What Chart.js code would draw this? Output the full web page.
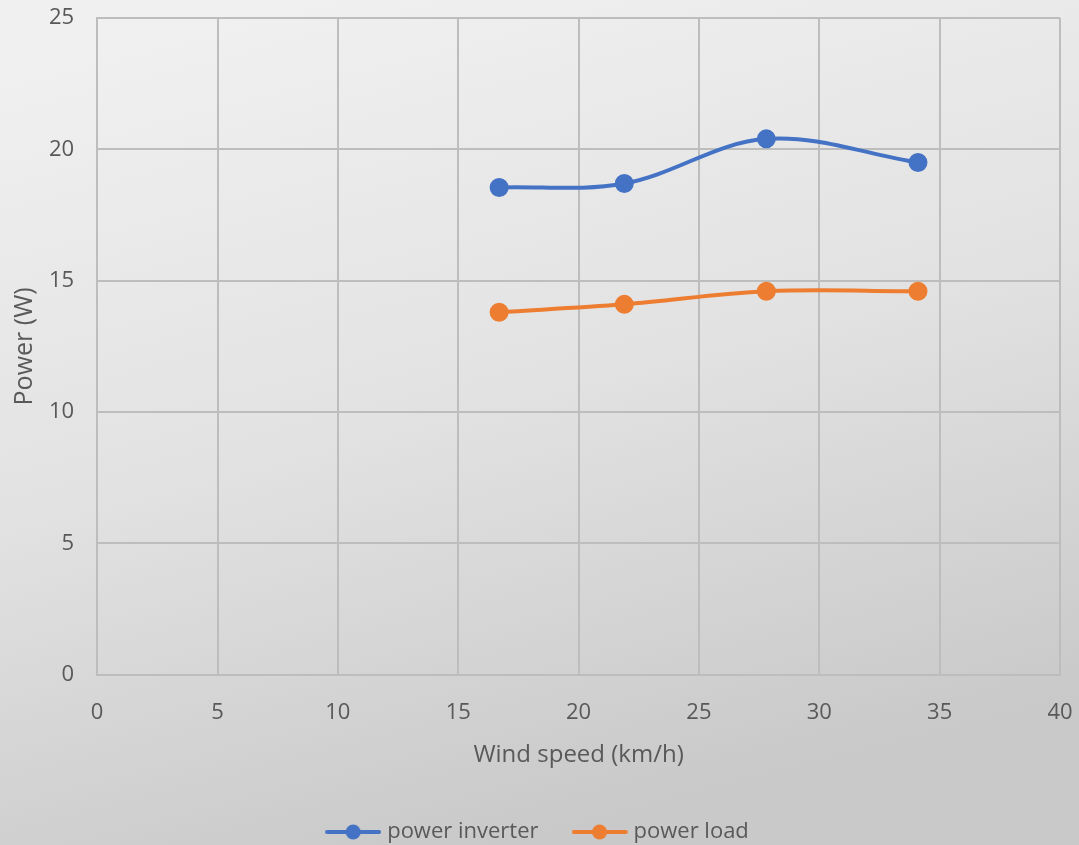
<!DOCTYPE html>
<html>
<head>
<meta charset="utf-8">
<script src="https://cdn.jsdelivr.net/npm/chart.js@4/dist/chart.umd.min.js"></script>
<style>
  html, body { margin: 0; padding: 0; background: #e2e2e2; }
  #wrap { width: 1079px; height: 845px; position: relative; }
</style>
</head>
<body>
<div id="wrap"><canvas id="c" width="1079" height="845"></canvas></div>
<script>
// Wind speed (km/h) and measured power (W)
const windSpeed = [16.7, 21.9, 27.8, 34.1];
const powerInverter = [18.55, 18.7, 20.4, 19.5];
const powerLoad = [13.8, 14.1, 14.6, 14.6];
const seriesNames = ['power inverter', 'power load'];
const xTicks = [0, 5, 10, 15, 20, 25, 30, 35, 40];
const yTicks = [0, 5, 10, 15, 20, 25];

const BLUE = '#4472c4';
const ORANGE = '#ed7d31';
const TEXT = '#595959';
const GRID = '#bdbdbd';
const FONT = "'Open Sans', 'Noto Sans', sans-serif";

function pairs(xs, ys) { return xs.map((x, i) => ({ x: x, y: ys[i] })); }

// legend glyph: short line with a dot in the middle
function legendGlyph(color) {
  const c = document.createElement('canvas');
  c.width = 56; c.height = 16;
  const g = c.getContext('2d');
  g.strokeStyle = color; g.lineWidth = 4; g.lineCap = 'round';
  g.beginPath(); g.moveTo(2, 8); g.lineTo(54, 8); g.stroke();
  g.fillStyle = color;
  g.beginPath(); g.arc(28, 8, 7.5, 0, Math.PI * 2); g.fill();
  return c;
}

const bgPlugin = {
  id: 'bg',
  beforeDraw(chart) {
    const ctx = chart.ctx;
    const w = chart.width, h = chart.height;
    const grad = ctx.createLinearGradient(w * 0.25, 0, w * 0.45, h);
    grad.addColorStop(0, '#f0f0f0');
    grad.addColorStop(0.5, '#e2e2e2');
    grad.addColorStop(1, '#c9c9c9');
    ctx.save();
    ctx.fillStyle = grad;
    ctx.fillRect(0, 0, w, h);
    ctx.restore();
  }
};

const glyphs = [legendGlyph(BLUE), legendGlyph(ORANGE)];

new Chart(document.getElementById('c'), {
  type: 'line',
  data: {
    datasets: [
      {
        label: seriesNames[0],
        data: pairs(windSpeed, powerInverter),
        borderColor: BLUE, backgroundColor: BLUE,
        borderWidth: 4, pointRadius: 7.5, pointHoverRadius: 7.5,
        tension: 0.35
      },
      {
        label: seriesNames[1],
        data: pairs(windSpeed, powerLoad),
        borderColor: ORANGE, backgroundColor: ORANGE,
        borderWidth: 4, pointRadius: 7.5, pointHoverRadius: 7.5,
        tension: 0.35
      }
    ]
  },
  options: {
    responsive: false,
    animation: false,
    layout: { padding: { left: 0, right: 0, top: 0, bottom: -8 } },
    plugins: {
      tooltip: { enabled: false },
      legend: {
        position: 'bottom',
        labels: {
          usePointStyle: true,
          pointStyleWidth: 46,
          boxHeight: 16,
          padding: 38,
          color: TEXT,
          font: { family: FONT, size: 22 },
          generateLabels(chart) {
            return chart.data.datasets.map((ds, i) => ({
              text: ds.label,
              pointStyle: glyphs[i],
              fillStyle: ds.borderColor,
              strokeStyle: ds.borderColor,
              lineWidth: 0,
              fontColor: TEXT,
              datasetIndex: i,
              hidden: false
            }));
          }
        }
      }
    },
    scales: {
      x: {
        type: 'linear', min: 0, max: 40,
        afterBuildTicks(axis) { axis.ticks = xTicks.map(v => ({ value: v })); },
        afterFit(axis) { axis.paddingLeft = 0; axis.paddingRight = 19; },
        ticks: { color: TEXT, font: { family: FONT, size: 22 }, padding: 25 },
        grid: { color: GRID, lineWidth: 2, drawTicks: false },
        border: { color: GRID, width: 2 },
        title: { display: true, text: 'Wind speed (km/h)', color: TEXT, font: { family: FONT, size: 24 }, padding: { top: -10, bottom: 13 } }
      },
      y: {
        type: 'linear', min: 0, max: 25,
        afterBuildTicks(axis) { axis.ticks = yTicks.map(v => ({ value: v })); },
        afterFit(axis) { axis.paddingTop = 18; axis.paddingBottom = 0; },
        ticks: { color: TEXT, font: { family: FONT, size: 22 }, padding: 23 },
        grid: { color: GRID, lineWidth: 2, drawTicks: false },
        border: { color: GRID, width: 2 },
        title: { display: true, text: 'Power (W)', color: TEXT, font: { family: FONT, size: 25 }, padding: { top: 10, bottom: -14 } }
      }
    }
  },
  plugins: [bgPlugin]
});
</script>
</body>
</html>
